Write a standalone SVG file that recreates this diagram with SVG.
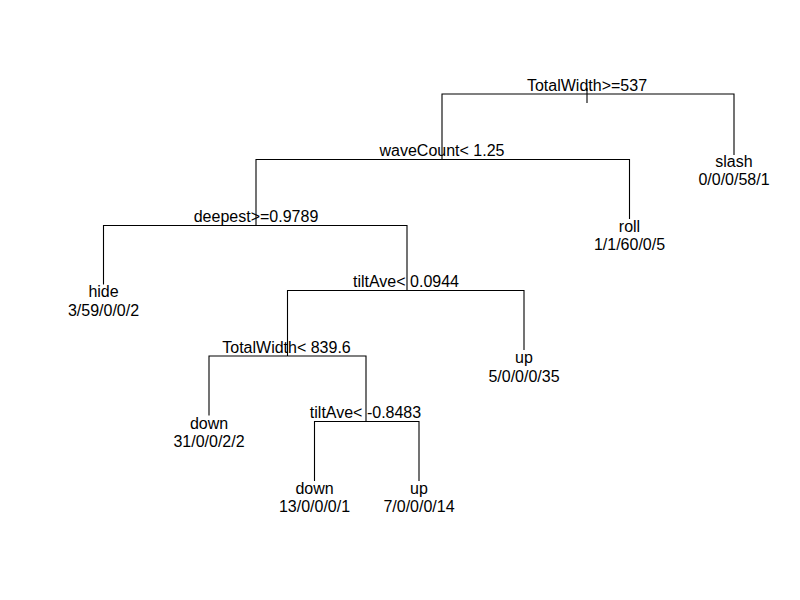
<svg xmlns="http://www.w3.org/2000/svg" width="800" height="600" viewBox="0 0 800 600">
<style>
  .bg { fill: #ffffff; }
  .br { fill: none; stroke: #000000; stroke-width: 1.1; }
  text { font-family: "Liberation Sans", Arial, sans-serif; font-size: 16px; fill: #000000; text-anchor: middle; }
</style>
<rect class="bg" x="0" y="0" width="800" height="600"/>
<g id="connectors">
  <path class="br" d="M587,94 H442 V159.5"/>
  <path class="br" d="M587,94 H734 V155"/>
  <path class="br" d="M442,159.5 H256 V225.5"/>
  <path class="br" d="M442,159.5 H629.5 V219"/>
  <path class="br" d="M256,225.5 H103.5 V284.5"/>
  <path class="br" d="M256,225.5 H407 V290.5"/>
  <path class="br" d="M407,290.5 H287.5 V356"/>
  <path class="br" d="M407,290.5 H524 V350"/>
  <path class="br" d="M287.5,356 H209 V415.5"/>
  <path class="br" d="M287.5,356 H366 V421.5"/>
  <path class="br" d="M366,421.5 H314.5 V481"/>
  <path class="br" d="M366,421.5 H419 V481"/>
</g>
<g id="n_root">
  <path class="br" d="M587,88 V103"/>
  <text x="587" y="91">TotalWidth&gt;=537</text>
</g>
<g id="n_waveCount">
  <text x="442" y="156">waveCount&lt; 1.25</text>
</g>
<g id="n_slash">
  <text x="734" y="166.5">slash</text>
  <text x="734" y="185">0/0/0/58/1</text>
</g>
<g id="n_deepest">
  <text x="256" y="221.5">deepest&gt;=0.9789</text>
</g>
<g id="n_roll">
  <text x="629.5" y="231.5">roll</text>
  <text x="629.5" y="250">1/1/60/0/5</text>
</g>
<g id="n_hide">
  <text x="103.5" y="296.5">hide</text>
  <text x="103.5" y="315.5">3/59/0/0/2</text>
</g>
<g id="n_tiltAve1">
  <text x="406" y="287">tiltAve&lt; 0.0944</text>
</g>
<g id="n_up1">
  <text x="524" y="363">up</text>
  <text x="524" y="381.5">5/0/0/0/35</text>
</g>
<g id="n_TotalWidth2">
  <text x="286.5" y="352.5">TotalWidth&lt; 839.6</text>
</g>
<g id="n_down1">
  <text x="209" y="428.5">down</text>
  <text x="209" y="447">31/0/0/2/2</text>
</g>
<g id="n_tiltAve2">
  <text x="365.5" y="418">tiltAve&lt; -0.8483</text>
</g>
<g id="n_down2">
  <text x="314.5" y="493.5">down</text>
  <text x="314.5" y="512">13/0/0/0/1</text>
</g>
<g id="n_up2">
  <text x="419" y="493.5">up</text>
  <text x="419" y="512">7/0/0/0/14</text>
</g>
</svg>
